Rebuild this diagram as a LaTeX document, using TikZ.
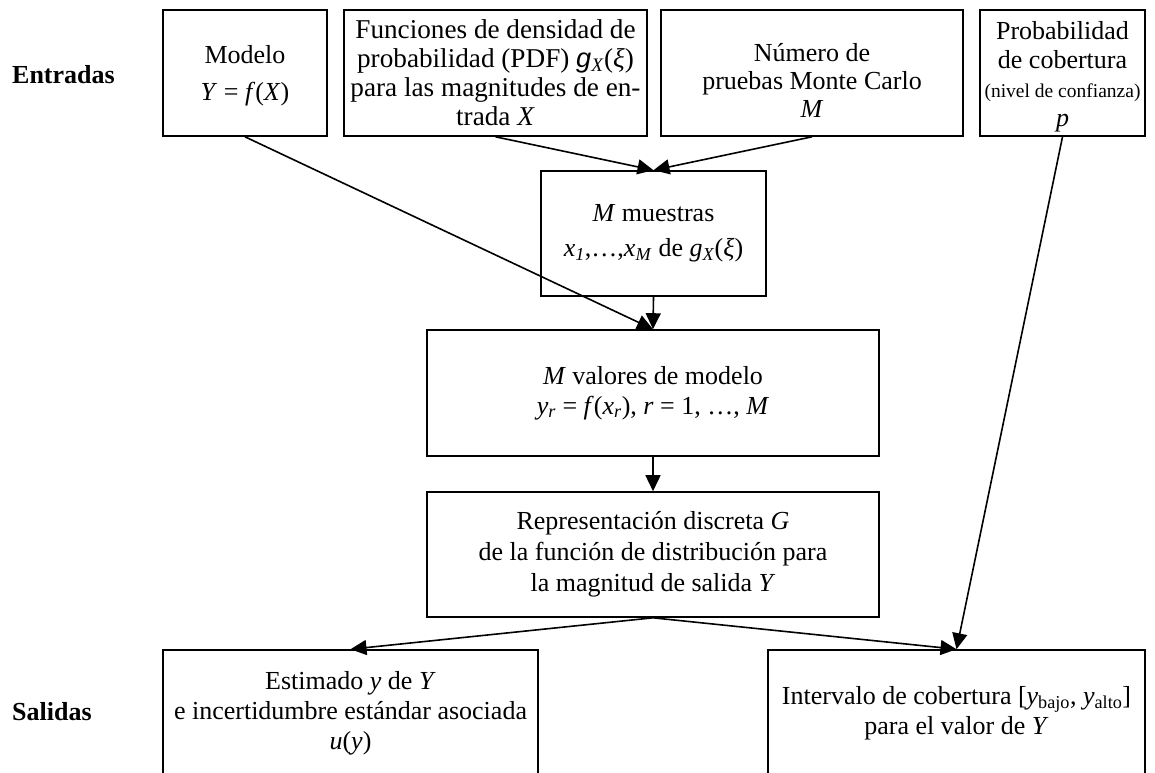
\documentclass[tikz,border=0pt]{standalone}
\usepackage{fontspec}
\setmainfont{Liberation Serif}
\usetikzlibrary{arrows.meta}
\begin{document}
\begin{tikzpicture}[x=1pt,y=-1pt,
  box/.style={draw, line width=1.6pt, align=center, inner sep=0pt, font=\fontsize{26}{30}\selectfont},
  conn/.style={line width=1.6pt, -{Triangle[length=16pt,width=15pt]}},
  lbl/.style={anchor=west, inner sep=0pt, font=\fontsize{26}{30}\selectfont\bfseries}]
\useasboundingbox (0,0) rectangle (1155,772);
\clip (0,0) rectangle (1155,772);

\node[lbl] (entradas) at (12,75) {Entradas};
\node[lbl] (salidas) at (12,712) {Salidas};

\node[box, minimum width=164pt, minimum height=126pt] (modelo) at (245,73)
  {\rule{0pt}{24pt}Modelo\\[7pt]\textit{Y} = \textit{f}(\textit{X})};
\node[box, minimum width=303pt, minimum height=126pt, font=\fontsize{27.2}{29}\selectfont] (pdf) at (495.5,73)
  {Funciones de densidad de\\probabilidad (PDF) {\fontspec{Liberation Sans}\itshape g}\textsubscript{\textit{X}}(\textit{ξ})\\para las magnitudes de en-\\trada \textit{X}};
\node[box, minimum width=302pt, minimum height=126pt, font=\fontsize{26}{28}\selectfont] (numero) at (812,73)
  {\rule{0pt}{32pt}Número de\\pruebas Monte Carlo\\\textit{M}};
\node[box, minimum width=165pt, minimum height=126pt, font=\fontsize{26}{29}\selectfont] (prob) at (1062.5,73)
  {\rule{0pt}{26pt}Probabilidad\\de cobertura\\{\fontsize{19.5}{27}\selectfont(nivel de confianza)}\\\textit{p}};

\node[box, minimum width=225pt, minimum height=125pt] (muestras) at (653.5,233.5)
  {\textit{M} muestras\\[5pt]\textit{x}\textsubscript{\textit{1}},…,\textit{x}\textsubscript{\textit{M}} de \textit{g}\textsubscript{\textit{X}}(\textit{ξ})};
\node[box, minimum width=452pt, minimum height=126pt] (valores) at (653,393)
  {\textit{M} valores de modelo\\\textit{y}\textsubscript{\textit{r}} = \textit{f}(\textit{x}\textsubscript{\textit{r}}), \textit{r} = 1, …, \textit{M}};
\node[box, minimum width=452pt, minimum height=125pt, font=\fontsize{26}{31}\selectfont] (rep) at (653,554.5)
  {Representación discreta \textit{G}\\de la función de distribución para\\la magnitud de salida \textit{Y}};
\node[box, minimum width=375pt, minimum height=126pt] (estimado) at (350.5,713)
  {Estimado \textit{y} de \textit{Y}\\e incertidumbre estándar asociada\\\textit{u}(\textit{y})};
\node[box, minimum width=377pt, minimum height=126pt] (intervalo) at (956.5,713)
  {Intervalo de cobertura [\textit{y}\textsubscript{bajo}, \textit{y}\textsubscript{alto}]\\para el valor de \textit{Y}};

\draw[conn] (modelo.south) -- (valores.north);
\draw[conn] (pdf.south) -- (muestras.north);
\draw[conn] (numero.south) -- (muestras.north);
\draw[conn] (muestras.south) -- (valores.north);
\draw[conn] (valores.south) -- (rep.north);
\draw[conn] (rep.south) -- (estimado.north);
\draw[conn] (rep.south) -- (intervalo.north);
\draw[conn] (prob.south) -- (intervalo.north);
\end{tikzpicture}
\end{document}
